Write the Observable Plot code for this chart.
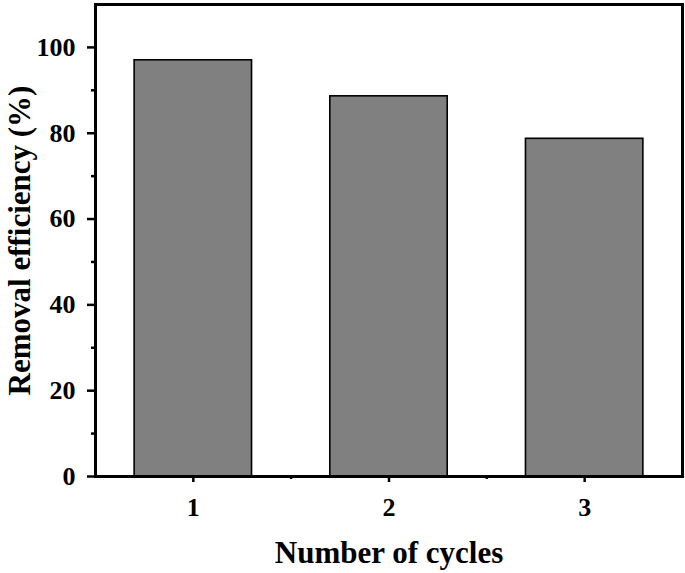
<!DOCTYPE html>
<html>
<head>
<meta charset="utf-8">
<script src="https://cdn.jsdelivr.net/npm/d3@7"></script>
<script src="https://cdn.jsdelivr.net/npm/@observablehq/plot@0.6"></script>
<style>
  html, body { margin: 0; padding: 0; background: #fff; }
  #chart svg { display: block; }
</style>
</head>
<body>
<div id="chart"></div>
<script>
const cycles = [1, 2, 3];
const efficiency = [97.0, 88.6, 78.7];
const yTicks = [0, 20, 40, 60, 80, 100];
const yMinorTicks = [10, 30, 50, 70, 90];
const xTicks = [1, 2, 3];
const xMinorTicks = [1.5, 2.5];
const xTitle = "Number of cycles";
const yTitle = "Removal efficiency (%)";

const data = cycles.map((c, i) => ({cycle: c, eff: efficiency[i]}));
const halfWidth = 0.3;
const font = '"Liberation Serif", "Times New Roman", serif';

const chart = Plot.plot({
  width: 685,
  height: 573,
  marginLeft: 95,
  marginRight: 3,
  marginTop: 4,
  marginBottom: 97,
  x: {domain: [0.5, 3.5]},
  y: {domain: [0, 110]},
  style: {fontFamily: font, fontWeight: "bold", background: "#fff", color: "#000"},
  marks: [
    Plot.rectY(data, {
      x1: d => d.cycle - halfWidth,
      x2: d => d.cycle + halfWidth,
      y1: 0,
      y2: "eff",
      fill: "#808080",
      stroke: "#000",
      strokeWidth: 1.6
    }),
    Plot.frame({stroke: "#000", strokeWidth: 3}),
    Plot.axisY(yTicks, {tickSize: 8, tickPadding: 12, fontSize: 26, fontWeight: "bold", strokeWidth: 2.5, tickFormat: "d", label: null}),
    Plot.axisY(yMinorTicks, {tickSize: 4, text: null, strokeWidth: 2.5, label: null}),
    Plot.axisX(xTicks, {tickSize: 6, tickPadding: 15, fontSize: 26, fontWeight: "bold", strokeWidth: 2.5, tickFormat: "d", label: null}),
    Plot.axisX(xMinorTicks, {tickSize: 3, text: null, strokeWidth: 2.5, label: null}),
    Plot.text([xTitle], {frameAnchor: "bottom", dy: 77, textAnchor: "middle", lineAnchor: "middle", fontSize: 31, fontWeight: "bold", text: d => d}),
    Plot.text([yTitle], {frameAnchor: "left", dx: -75, rotate: -90, textAnchor: "middle", lineAnchor: "middle", fontSize: 31, fontWeight: "bold", text: d => d})
  ]
});
document.getElementById("chart").appendChild(chart);
</script>
</body>
</html>
